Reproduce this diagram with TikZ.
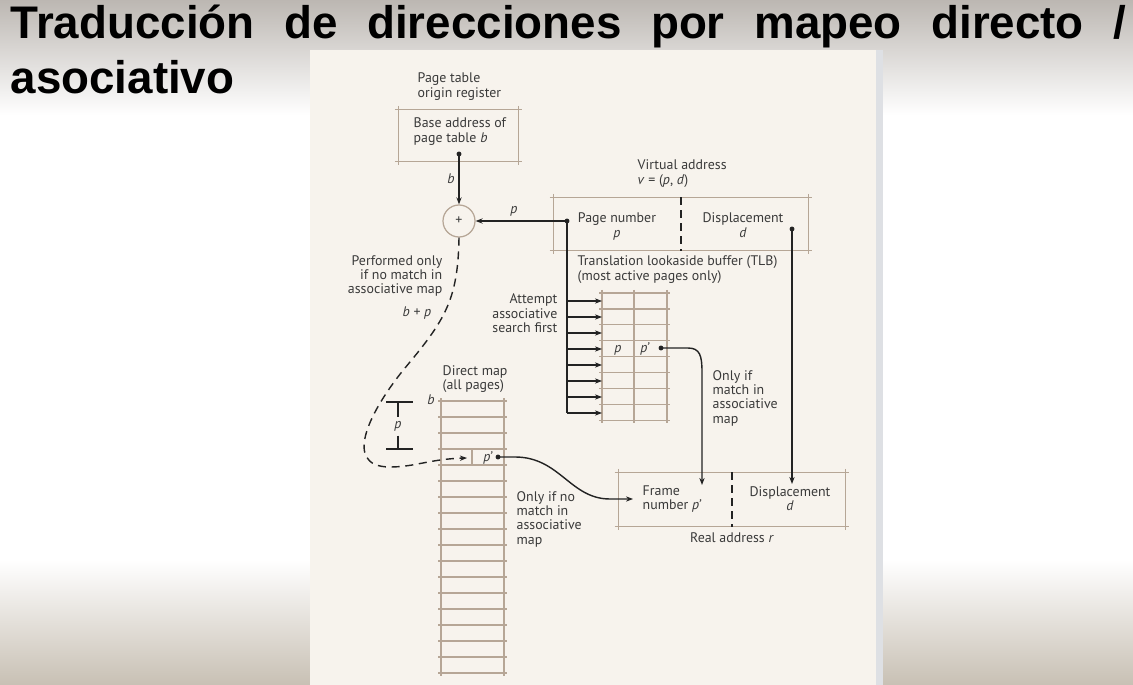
\documentclass[tikz,border=0pt]{standalone}
\usepackage{fontspec}
\setmainfont{PT Sans}
\newfontfamily\titlefont{Liberation Sans}
\usepackage{tikz}
\usetikzlibrary{arrows.meta,positioning}
\usepackage{xcolor}
\definecolor{bgtop}{RGB}{188,183,178}
\definecolor{bgbot}{RGB}{200,192,180}
\definecolor{panel}{RGB}{247,243,237}
\definecolor{panelshade}{RGB}{222,224,228}
\definecolor{boxcol}{RGB}{182,166,150}
\definecolor{txt}{RGB}{58,58,58}
\definecolor{conncol}{RGB}{35,35,35}
\newcommand{\diagfont}{\fontsize{3.95}{4.1}\selectfont}
\newcommand{\lines}[2]{\begin{tabular}[t]{@{}#1@{}}#2\end{tabular}}
\tikzstyle{lbl} = [inner sep=0, text=txt, font=\diagfont]
\tikzstyle{boxline} = [draw=boxcol, line width=0.35pt]
\tikzstyle{tabline} = [draw=boxcol, line width=0.35pt]
\tikzstyle{arrow} = [draw=conncol, line width=0.4pt, -{Stealth[length=2pt,width=1.5pt]}]
\tikzstyle{conn} = [draw=conncol, line width=0.4pt]
\tikzstyle{dasharrow} = [arrow, dash pattern=on 2.3pt off 1.6pt]
\tikzstyle{divider} = [draw=conncol, line width=0.3pt, dash pattern=on 2.3pt off 1.4pt]
\tikzset{ovbox/.style={inner sep=0, append after command={
  ([xshift=-0.35mm]\tikzlastnode.north west) edge[boxline] ([xshift=0.35mm]\tikzlastnode.north east)
  ([xshift=-0.35mm]\tikzlastnode.south west) edge[boxline] ([xshift=0.35mm]\tikzlastnode.south east)
  ([yshift=0.35mm]\tikzlastnode.north west) edge[boxline] ([yshift=-0.35mm]\tikzlastnode.south west)
  ([yshift=0.35mm]\tikzlastnode.north east) edge[boxline] ([yshift=-0.35mm]\tikzlastnode.south east)}}}

\begin{document}
\begin{tikzpicture}[x=0.01cm, y=-0.01cm]
\useasboundingbox (0,0) rectangle (1133,685);
% Background and page
\fill[white] (0,0) rectangle (1133,685);
\shade[top color=bgtop, bottom color=white] (0,0) rectangle (1133,115);
\shade[top color=white, bottom color=bgbot] (0,560) rectangle (1133,685);
\fill[panelshade] (876,50) rectangle (883,685);
\fill[panel] (310,50) rectangle (876,685);

% Title
\node[anchor=base west, inner sep=0, text=black] (title) at (10,39)
  {\parbox[t]{11.15cm}{\titlefont\bfseries\fontsize{13}{15.6}\selectfont Traducción de direcciones por mapeo directo /\linebreak asociativo}};

% Page table origin register
\node[lbl, anchor=base west] (ptor) at (417,83) {\lines{l}{Page table\\origin register}};
\node[ovbox, minimum width=1.19cm, minimum height=0.51cm] (ptbox) at (458.5,135.5) {};
\node[lbl, anchor=base west] (pttxt) at (413,128) {\lines{l}{Base address of\\page table \textit{b}}};
\coordinate (bdot) at (459,154);
\node[circle, draw=boxcol, line width=0.35pt, fill=panel, minimum size=0.32cm, inner sep=0, text=txt, font=\diagfont] (plus) at (459,221) {+};
\draw[arrow] (bdot) -- (plus.north);
\node[lbl, anchor=base] (blbl) at (451,184) {\textit{b}};

% Virtual address
\node[lbl, anchor=base west] (valbl) at (637,170) {\lines{l}{Virtual address\\\textit{v} = (\textit{p}, \textit{d})}};
\node[ovbox, minimum width=2.54cm, minimum height=0.52cm] (vaddr) at (681,224) {};
\draw[divider] (vaddr.north) -- (vaddr.south);
\node[lbl, anchor=base] (vpn) at (617,223) {\lines{c}{Page number\\\textit{p}}};
\node[lbl, anchor=base] (vdisp) at (743,223) {\lines{c}{Displacement\\\textit{d}}};
\coordinate (vpdot) at (567,221);
\coordinate (vddot) at (792,229);
\draw[arrow] (vpdot) -- (plus.east);
\node[lbl, anchor=base] (plbl) at (514,214) {\textit{p}};

% TLB
\node[lbl, anchor=base west] (tlblbl) at (577,266) {\lines{l}{Translation lookaside buffer (TLB)\\(most active pages only)}};
\foreach \k in {0,...,8}
  \draw[tabline] (599,293+15.9*\k) -- (670,293+15.9*\k);
\foreach \x in {602,634,667}
  \draw[tabline] (\x,290) -- (\x,423);
\node[lbl, anchor=base] (tlbp) at (618,352) {\textit{p}};
\node[lbl, anchor=base] (tlbpp) at (645,352) {\textit{p’}};
\coordinate (tlbdot) at (661,348);
\coordinate (tlbbus) at (567,413);
\draw[conn] (vpdot) -- (tlbbus);
\foreach \k in {0,...,7} {
  \coordinate (tin\k) at (602,301+16*\k);
  \draw[arrow] (vpdot |- tin\k) -- (tin\k);
}
\node[lbl, anchor=base east] (attlbl) at (558,304) {\lines{r}{Attempt\\associative\\search first}};
\node[lbl, anchor=base west] (tlbonly) at (712,380) {\lines{l}{Only if\\match in\\associative\\map}};

% Real address
\node[ovbox, minimum width=2.26cm, minimum height=0.53cm] (raddr) at (732,499.5) {};
\draw[divider] (raddr.north) -- (raddr.south);
\node[lbl, anchor=base west] (fnum) at (642,495) {\lines{l}{Frame\\number \textit{p’}}};
\node[lbl, anchor=base] (rdisp) at (790,496) {\lines{c}{Displacement\\\textit{d}}};
\node[lbl, anchor=base] (ralbl) at (732,542) {Real address \textit{r}};
\coordinate (fnin) at (702,485);
\coordinate (rdin) at (792,484);
\draw[arrow] (vddot) -- (rdin);
\draw[arrow] (tlbdot) -- (688,348) .. controls (700,348) and (702,356) .. (702,372) -- (fnin);

% Direct map
\node[lbl, anchor=base east] (perf) at (443,265) {\lines{r}{Performed only\\if no match in\\associative map}};
\node[lbl, anchor=base east] (bplbl) at (432,317) {\textit{b} + \textit{p}};
\node[lbl, anchor=base west] (dmlbl) at (442,375) {\lines{l}{Direct map\\(all pages)}};
\foreach \k in {0,...,17}
  \draw[tabline] (438,401+16*\k) -- (507,401+16*\k);
\foreach \x in {441,504}
  \draw[tabline] (\x,398) -- (\x,676);
\draw[tabline] (472,449) -- (472,465);
\node[lbl, anchor=base] (dmb) at (431,404) {\textit{b}};
\node[lbl, anchor=base] (dmpp) at (488,461) {\textit{p’}};
\coordinate (dmdot) at (498,457);
\coordinate (dmin) at (467,458);
\coordinate (fnarr) at (633,499);

% p bracket
\node[lbl, anchor=base] (brp) at (398,428) {\textit{p}};
\draw[conn] (386,402) -- (413,402);
\draw[conn] (386,449) -- (413,449);
\draw[conn] (398,402) -- ([yshift=0.8pt]brp.north);
\draw[conn] ([yshift=-1.2pt]brp.south) -- (398,449);

\draw[dasharrow] (plus.south) .. controls (458,300) and (445,320) .. (405,368)
  .. controls (372,408) and (340,467) .. (390,467)
  .. controls (415,467) and (430,459) .. (dmin);
\node[lbl, anchor=base west] (dmonly) at (516,501) {\lines{l}{Only if no\\match in\\associative\\map}};
\draw[arrow] (dmdot) -- (515,457) .. controls (560,457) and (570,499) .. (610,499) -- (fnarr);

% Dots
\foreach \d in {bdot,vpdot,vddot,tlbdot,dmdot}
  \fill[conncol] (\d) circle (0.7pt);
\end{tikzpicture}
\end{document}
